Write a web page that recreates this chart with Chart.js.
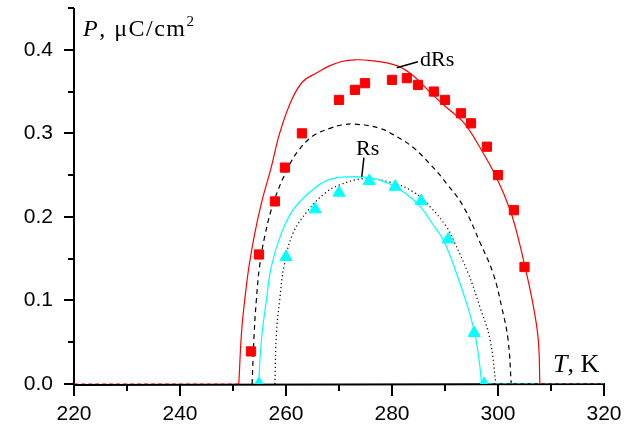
<!DOCTYPE html>
<html>
<head>
<meta charset="utf-8">
<script src="https://cdn.jsdelivr.net/npm/chart.js@4/dist/chart.umd.min.js"></script>
<style>
  html, body { margin: 0; padding: 0; background: #fff; }
  #wrap { width: 627px; height: 428px; }
</style>
</head>
<body>
<div id="wrap"><canvas id="c" width="627" height="428"></canvas></div>
<script>
// ---- Data ----
const xTickLabels = [220, 240, 260, 280, 300, 320];
const yTickLabels = [0.0, 0.1, 0.2, 0.3, 0.4];

// Experimental points: red squares
const sqT = [253.4, 254.9, 257.9, 259.8, 263.0, 270.0, 273.0, 274.9, 280.0, 282.8, 284.9, 287.9, 290.0, 293.0, 294.9, 297.9, 300.0, 303.0, 305.0];
const sqP = [0.039, 0.155, 0.2185, 0.259, 0.300, 0.340, 0.352, 0.360, 0.364, 0.366, 0.358, 0.350, 0.340, 0.324, 0.312, 0.284, 0.250, 0.208, 0.140];

// Experimental points: cyan triangles
const triT = [254.9, 260.0, 265.5, 270.0, 275.7, 280.6, 285.5, 290.6, 295.5, 297.4];
const triP = [0.000, 0.152, 0.209, 0.229, 0.243, 0.236, 0.219, 0.173, 0.061, 0.000];

// Curve "dRs" (red solid)
const dRsT = [251.1, 251.6, 252.2, 253.0, 254.1, 255.5, 257.2, 258.8, 261.0, 263.2, 266.0, 268.3, 270.5, 273.0, 276.0, 280.9, 284.0, 287.2, 290.3, 293.5, 296.6, 299.8, 302.3, 303.8, 305.4, 306.7, 307.6, 307.9];
const dRsP = [0, 0.061, 0.100, 0.140, 0.180, 0.220, 0.259, 0.300, 0.339, 0.362, 0.373, 0.381, 0.386, 0.388, 0.387, 0.381, 0.369, 0.349, 0.331, 0.313, 0.283, 0.246, 0.208, 0.175, 0.132, 0.092, 0.053, 0];
// zero baseline of dRs outside its transition range
const dRsZeroLeftT = [220, 251.1];
const dRsZeroRightT = [307.9, 320];

// Black dashed curve
const dashT = [253.6, 254.0, 254.4, 255.0, 256.1, 257.8, 260.4, 262.3, 265.1, 268.3, 270.5, 273.0, 277.7, 280.9, 284.0, 287.2, 290.3, 293.5, 296.7, 299.1, 300.7, 301.9, 302.5];
const dashP = [0, 0.061, 0.100, 0.140, 0.180, 0.220, 0.259, 0.279, 0.297, 0.306, 0.310, 0.311, 0.306, 0.296, 0.283, 0.263, 0.240, 0.212, 0.168, 0.132, 0.092, 0.053, 0];

// Curve "Rs" (cyan solid)
const rsT = [254.9, 255.0, 255.5, 256.3, 257.2, 259.1, 261.3, 264.2, 267.9, 272.1, 276.5, 280.0, 283.0, 285.5, 287.5, 289.7, 292.2, 294.3, 295.7, 296.5, 296.9];
const rsP = [0, 0.021, 0.061, 0.100, 0.140, 0.180, 0.208, 0.228, 0.244, 0.248, 0.246, 0.238, 0.226, 0.211, 0.193, 0.172, 0.132, 0.092, 0.058, 0.025, 0];
const rsZeroRightT = [296.9, 320];

// Black dotted curve
const dotT = [257.9, 258.2, 258.8, 259.6, 261.3, 264.2, 267.3, 270.0, 274.6, 279.6, 284.0, 287.2, 290.3, 291.6, 294.4, 296.6, 298.5, 299.6];
const dotP = [0, 0.061, 0.100, 0.140, 0.180, 0.208, 0.228, 0.238, 0.2456, 0.2416, 0.230, 0.212, 0.188, 0.172, 0.132, 0.092, 0.053, 0];

const pts = (xs, ys) => xs.map((x, i) => ({ x: x, y: ys[i] }));
const zeros = (xs) => xs.map((x) => ({ x: x, y: 0 }));

const SERIF = '"Liberation Serif", "Times New Roman", serif';
const SANS = '"Liberation Sans", Arial, sans-serif';

const axesPlugin = {
  id: 'axesPlugin',
  beforeDatasetsDraw(chart) {
    const { ctx, scales: { x, y } } = chart;
    const x0 = x.getPixelForValue(220), x1 = x.getPixelForValue(320);
    const y0 = y.getPixelForValue(0), y1 = y.getPixelForValue(0.45);
    ctx.save();
    ctx.strokeStyle = '#000';
    ctx.lineWidth = 2;
    ctx.beginPath();
    ctx.moveTo(x0, y1); ctx.lineTo(x0, y0 + 1); ctx.lineTo(x1 + 1, y0);
    ctx.stroke();
    for (let t = 220; t <= 320; t += 10) {
      const px = Math.round(x.getPixelForValue(t));
      const major = (t % 20 === 0);
      ctx.beginPath();
      ctx.moveTo(px, y0); ctx.lineTo(px, y0 + (major ? 12 : 7));
      ctx.stroke();
    }
    for (let k = 0; k <= 9; k++) {
      const v = k * 0.05;
      const py = Math.round(y.getPixelForValue(v));
      const major = (k % 2 === 0);
      ctx.beginPath();
      ctx.moveTo(x0, py); ctx.lineTo(x0 - (major ? 10 : 6), py);
      ctx.stroke();
    }
    ctx.restore();
  },
  afterDatasetsDraw(chart) {
    const { ctx, scales: { x, y } } = chart;
    const X = (v) => x.getPixelForValue(v), Y = (v) => y.getPixelForValue(v);
    ctx.save();
    ctx.fillStyle = '#000';
    ctx.strokeStyle = '#000';
    ctx.textBaseline = 'alphabetic';
    ctx.textAlign = 'left';
    // Y axis title: P, μC/cm²
    let px = X(221.7), py = Y(0.4167);
    ctx.letterSpacing = '1.5px';
    ctx.font = 'italic 24px ' + SERIF;
    ctx.fillText('P', px, py);
    px += ctx.measureText('P').width;
    ctx.font = '24px ' + SERIF;
    ctx.fillText(', μC/cm', px, py);
    px += ctx.measureText(', μC/cm').width;
    ctx.font = '15px ' + SERIF;
    ctx.fillText('2', px, py - 10);
    ctx.letterSpacing = '0px';
    // X axis title: T, K
    px = X(310.4); py = Y(0.0143);
    ctx.font = 'italic 26px ' + SERIF;
    ctx.fillText('T', px, py);
    px += ctx.measureText('T').width;
    ctx.font = '26px ' + SERIF;
    ctx.fillText(', K', px, py);
    // Curve labels
    ctx.font = '22px ' + SERIF;
    ctx.fillText('dRs', X(285.3), Y(0.381));
    ctx.fillText('Rs', X(273.2), Y(0.2746));
    ctx.lineWidth = 1.5;
    ctx.beginPath();
    ctx.moveTo(X(280.9), Y(0.3785)); ctx.lineTo(X(284.9), Y(0.3857));
    ctx.moveTo(X(274.7), Y(0.271)); ctx.lineTo(X(274.3), Y(0.248));
    ctx.stroke();
    ctx.restore();
  }
};

const curve = (label, data, color, dash, order) => ({
  label, data, borderColor: color, borderWidth: 1.2, pointRadius: 0, borderDash: dash,
  tension: 0.4, order
});

new Chart(document.getElementById('c'), {
  type: 'line',
  data: {
    datasets: [
      { label: 'sq', data: pts(sqT, sqP), showLine: false, pointStyle: 'rect', pointRadius: 6.5,
        backgroundColor: '#ff0000', borderColor: '#ff0000', borderWidth: 1, order: 0 },
      { label: 'tri', data: pts(triT, triP), showLine: false, pointStyle: 'triangle', pointRadius: 7,
        backgroundColor: '#00ffff', borderColor: '#00ffff', borderWidth: 1, order: 1 },
      curve('dRs0L', zeros(dRsZeroLeftT), '#ff0000', [4, 3], 2),
      curve('dRs0R', zeros(dRsZeroRightT), '#ff0000', [4, 3], 2),
      curve('dRs', pts(dRsT, dRsP), '#ff0000', [], 3),
      curve('Rs0R', zeros(rsZeroRightT), '#00ffff', [4, 3], 4),
      curve('Rs', pts(rsT, rsP), '#00ffff', [], 5),
      curve('dash', pts(dashT, dashP), '#000000', [5, 4], 6),
      curve('dot', pts(dotT, dotP), '#000000', [1.2, 2.8], 7)
    ]
  },
  options: {
    responsive: false,
    animation: false,
    layout: { padding: { left: 0, right: 23, top: 7, bottom: 0 } },
    plugins: { legend: { display: false }, tooltip: { enabled: false } },
    scales: {
      x: {
        type: 'linear', min: 220, max: 320,
        grid: { display: false, drawTicks: false },
        border: { display: false },
        afterFit: (s) => { s.height = 44; s.paddingLeft = 0; s.paddingRight = 0; },
        afterBuildTicks: (s) => { s.ticks = xTickLabels.map(v => ({ value: v })); },
        ticks: { padding: 18, color: '#000', font: { family: SANS, size: 21 }, maxRotation: 0,
                 callback: (v) => String(v) }
      },
      y: {
        type: 'linear', min: 0, max: 0.45,
        grid: { display: false, drawTicks: false },
        border: { display: false },
        afterFit: (s) => { s.width = 74; s.paddingTop = 0; s.paddingBottom = 0; },
        afterBuildTicks: (s) => { s.ticks = yTickLabels.map(v => ({ value: v })); },
        ticks: { padding: 21, color: '#000', font: { family: SANS, size: 21 },
                 callback: (v) => Number(v).toFixed(1) }
      }
    }
  },
  plugins: [axesPlugin]
});
</script>
</body>
</html>
